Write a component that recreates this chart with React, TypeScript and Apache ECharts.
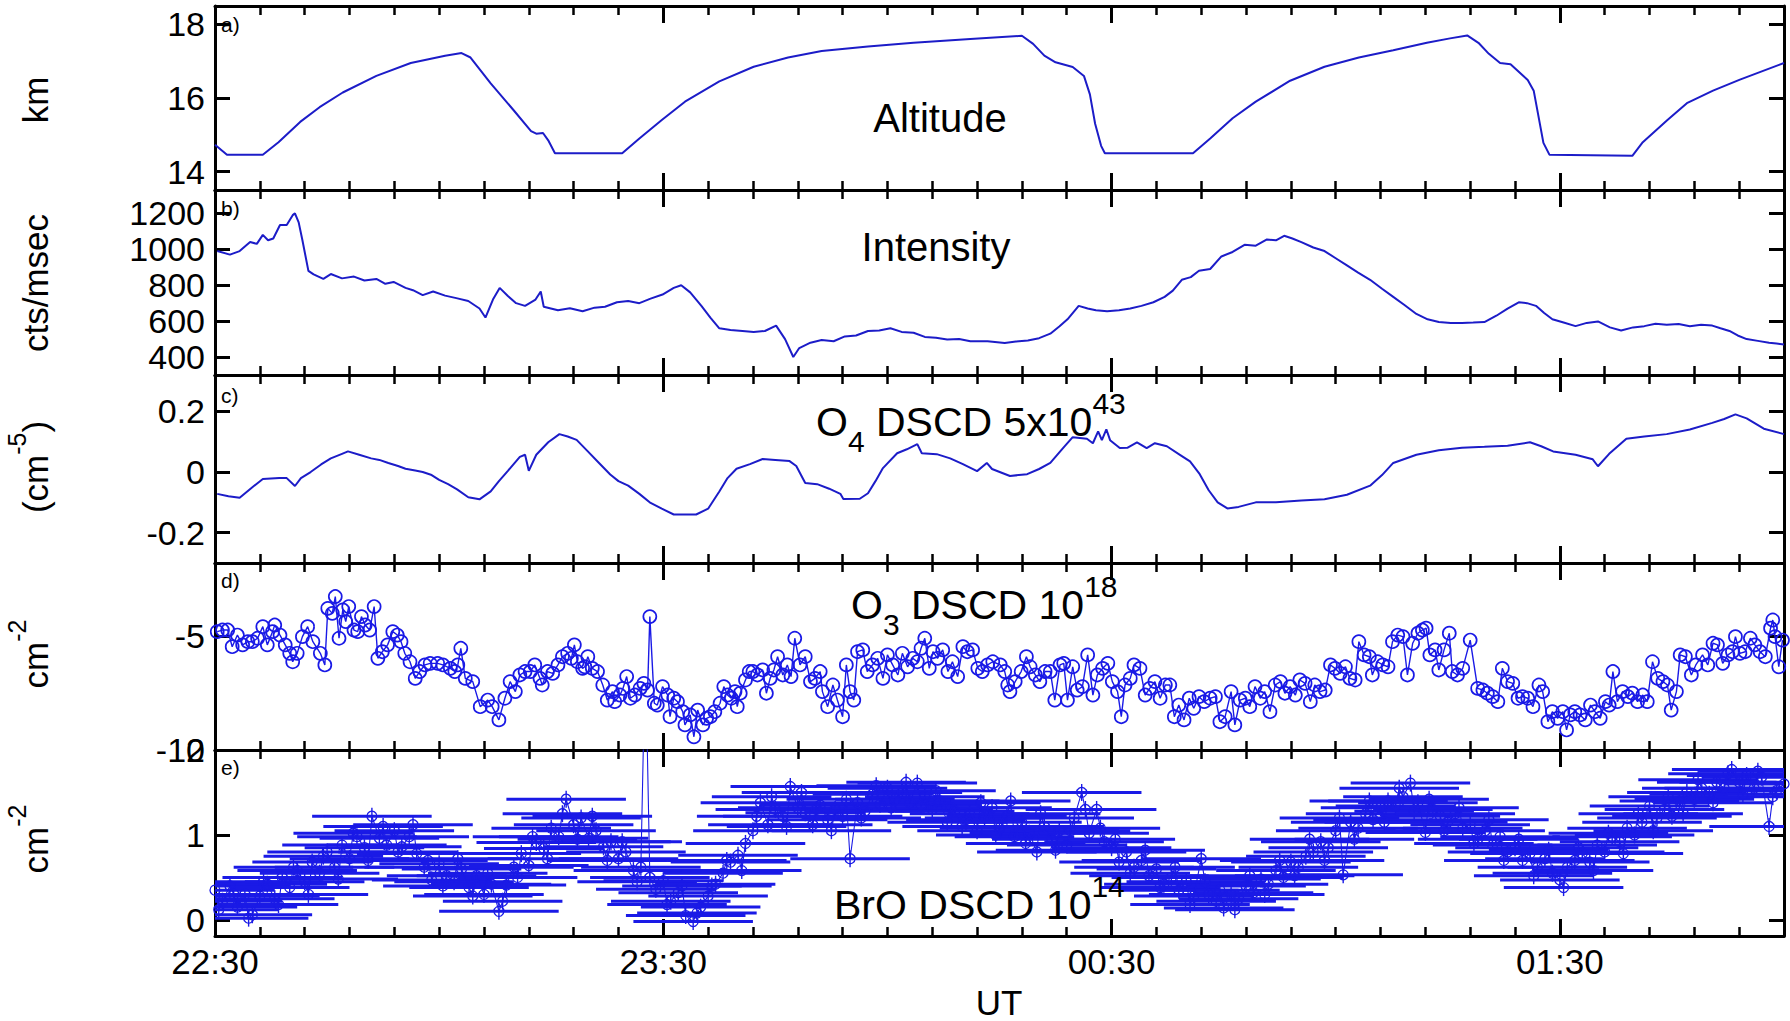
import React, { useEffect, useRef } from 'react';
import * as echarts from 'echarts';

const FONT = "'Liberation Sans', Arial, Helvetica, sans-serif";
const LINE_BLUE = '#1c1cc8';
const MARK_BLUE = '#1a1ae6';

// x values: minutes after 22:30 UT
const X_MIN = 0;
const X_MAX = 210;
const X_LABEL_VALUES = [0, 60, 120, 180];
const X_MINOR_STEP = 6;

// a) Altitude (km)
const altT = [0, 1.6, 6.4, 8.5, 11.4, 14.0, 17.1, 21.6, 26.2, 30.8, 33.0, 34.2, 36.9, 40.0, 42.3, 43.0, 43.9, 44.6, 45.5, 54.5, 56.8, 59.8, 62.9, 67.5, 72.1, 76.7, 81.2, 87.4, 93.5, 101.1, 108.0, 109.5, 111.0, 112.5, 114.8, 116.3, 117.1, 117.8, 118.6, 119.1, 130.9, 133.2, 136.2, 139.3, 143.9, 148.5, 153.1, 157.7, 162.2, 165.3, 167.6, 169.1, 170.5, 172.0, 173.4, 175.7, 176.5, 177.8, 178.6, 189.7, 191.1, 194.4, 197.0, 200.5, 204.1, 210];
const altV = [14.73, 14.46, 14.46, 14.8, 15.35, 15.75, 16.15, 16.6, 16.95, 17.15, 17.22, 17.1, 16.4, 15.66, 15.1, 15.03, 15.05, 14.85, 14.5, 14.5, 14.9, 15.4, 15.9, 16.45, 16.85, 17.1, 17.28, 17.4, 17.5, 17.6, 17.69, 17.47, 17.15, 16.97, 16.84, 16.6, 16.1, 15.3, 14.7, 14.5, 14.5, 14.9, 15.45, 15.9, 16.47, 16.85, 17.1, 17.3, 17.5, 17.62, 17.7, 17.5, 17.2, 16.95, 16.92, 16.49, 16.2, 14.78, 14.46, 14.43, 14.8, 15.4, 15.86, 16.2, 16.5, 16.95];

// b) Intensity (cts/msec)
const intT = [0.3, 2.0, 3.3, 4.7, 5.6, 6.4, 7.1, 7.8, 8.7, 9.6, 10.4, 10.7, 11.2, 11.7, 12.5, 13.2, 14.5, 15.5, 17.0, 18.6, 20.0, 21.6, 22.8, 23.9, 25.5, 26.5, 27.8, 29.2, 30.8, 32.3, 33.9, 35.4, 36.2, 37.2, 38.1, 39.2, 40.3, 41.5, 42.9, 43.6, 44.0, 45.9, 47.5, 49.2, 50.8, 52.2, 53.8, 55.3, 56.8, 58.3, 59.9, 61.4, 62.4, 63.6, 65.1, 66.3, 67.5, 69.0, 70.6, 72.1, 73.6, 75.1, 76.3, 77.4, 78.2, 79.7, 81.2, 82.8, 84.3, 85.8, 87.4, 88.9, 90.4, 91.9, 93.5, 95.0, 96.5, 98.0, 99.6, 101.1, 103.4, 105.7, 107.2, 108.8, 110.3, 111.8, 113.0, 114.1, 115.6, 116.8, 117.9, 119.4, 121.0, 122.5, 124.0, 125.6, 127.1, 128.2, 129.4, 130.6, 131.7, 133.2, 134.7, 136.2, 137.8, 139.3, 140.8, 142.0, 143.1, 144.2, 145.4, 147.0, 148.5, 150.0, 151.5, 153.0, 154.6, 156.2, 157.7, 159.2, 160.8, 162.3, 163.8, 165.4, 166.9, 168.4, 169.9, 171.5, 173.0, 174.5, 175.6, 176.8, 177.9, 179.0, 180.5, 182.1, 183.6, 185.1, 186.7, 188.2, 189.8, 191.3, 192.8, 194.3, 195.9, 197.4, 198.9, 200.4, 201.5, 202.7, 203.8, 205.0, 206.5, 208.0, 209.0, 210];
const intV = [990, 970, 990, 1040, 1030, 1080, 1050, 1060, 1135, 1135, 1190, 1200, 1150, 1050, 880, 860, 835, 862, 838, 848, 826, 835, 808, 818, 785, 772, 745, 765, 742, 728, 712, 670, 620, 720, 785, 740, 700, 685, 720, 765, 680, 660, 672, 655, 675, 680, 705, 712, 700, 725, 748, 785, 800, 760, 685, 620, 560, 550, 545, 540, 545, 575, 500, 400, 450, 480, 495, 488, 515, 520, 545, 548, 560, 540, 535, 512, 508, 498, 500, 488, 488, 478, 486, 492, 505, 530, 570, 610, 685, 670, 660, 655, 660, 670, 685, 705, 735, 770, 830, 845, 880, 890, 960, 985, 1025, 1020, 1055, 1050, 1075, 1060, 1040, 1010, 990, 950, 910, 870, 830, 780, 735, 690, 640, 610, 595, 590, 590, 592, 595, 630, 670, 705, 700, 685, 645, 610, 592, 572, 590, 598, 565, 548, 565, 572, 585, 580, 584, 572, 580, 575, 560, 545, 520, 500, 490, 480, 475, 470];

// c) O4 DSCD (5x10^43 cm^-5)
const o4T = [0.3, 1.8, 3.3, 5.0, 6.4, 8.6, 9.6, 10.7, 11.5, 12.8, 14.2, 15.5, 17.0, 17.8, 19.3, 20.9, 22.0, 23.2, 24.5, 25.5, 26.8, 27.8, 29.0, 30.0, 31.2, 32.4, 33.9, 35.4, 36.9, 38.0, 39.2, 40.8, 41.5, 42.0, 43.0, 44.6, 46.1, 47.2, 48.4, 49.9, 51.4, 52.9, 54.0, 55.3, 56.8, 58.3, 59.8, 61.4, 62.9, 64.4, 66.0, 67.5, 68.6, 69.8, 71.6, 73.3, 75.0, 76.9, 77.8, 79.0, 80.6, 82.2, 83.7, 84.1, 86.3, 87.4, 88.4, 89.4, 91.3, 92.6, 94.0, 94.6, 96.6, 98.4, 100.1, 102.0, 103.3, 104.0, 106.4, 108.7, 110.3, 111.8, 113.5, 114.8, 116.7, 117.5, 118.2, 118.7, 119.3, 119.8, 121.1, 122.1, 123.4, 124.7, 125.8, 127.4, 129.2, 130.5, 131.8, 133.0, 134.2, 135.5, 137.0, 139.3, 142.0, 145.4, 148.5, 151.5, 154.6, 156.2, 157.7, 160.8, 163.8, 166.9, 169.9, 173.0, 176.0, 177.5, 179.1, 182.1, 184.4, 185.1, 186.6, 188.9, 191.3, 194.3, 197.4, 200.4, 202.0, 203.5, 205.0, 207.3, 210];
const o4V = [-0.072, -0.08, -0.085, -0.05, -0.023, -0.02, -0.02, -0.046, -0.02, 0.0, 0.025, 0.045, 0.06, 0.068, 0.057, 0.045, 0.04, 0.03, 0.02, 0.011, 0.005, 0.0, -0.01, -0.026, -0.04, -0.057, -0.083, -0.09, -0.064, -0.03, 0.004, 0.05, 0.057, 0.004, 0.057, 0.098, 0.125, 0.117, 0.106, 0.068, 0.03, -0.008, -0.03, -0.045, -0.072, -0.102, -0.121, -0.14, -0.14, -0.14, -0.121, -0.064, -0.02, 0.011, 0.026, 0.043, 0.04, 0.036, 0.02, -0.036, -0.04, -0.055, -0.072, -0.089, -0.088, -0.07, -0.03, 0.013, 0.062, 0.075, 0.092, 0.062, 0.059, 0.045, 0.026, 0.003, 0.03, 0.01, -0.013, -0.007, 0.01, 0.03, 0.079, 0.115, 0.11, 0.095, 0.134, 0.105, 0.141, 0.105, 0.079, 0.08, 0.098, 0.079, 0.095, 0.085, 0.056, 0.035, -0.007, -0.06, -0.1, -0.12, -0.115, -0.1, -0.1, -0.094, -0.09, -0.075, -0.045, -0.01, 0.03, 0.057, 0.072, 0.08, 0.083, 0.087, 0.098, 0.085, 0.068, 0.057, 0.042, 0.019, 0.06, 0.11, 0.117, 0.125, 0.14, 0.162, 0.175, 0.19, 0.177, 0.143, 0.125];

// d) O3 DSCD (10^18 cm^-2)
const o3T = [0.3, 1.0, 1.7, 2.3, 3.0, 3.7, 4.4, 5.0, 5.7, 6.4, 7.0, 7.7, 8.0, 8.7, 9.4, 10.0, 10.4, 11.0, 11.7, 12.4, 13.1, 14.1, 14.7, 15.1, 15.7, 16.1, 16.6, 17.1, 17.5, 17.9, 18.6, 19.1, 19.6, 20.1, 20.7, 21.3, 21.8, 22.4, 23.1, 23.8, 24.4, 24.9, 25.4, 26.1, 26.8, 27.4, 28.1, 28.8, 29.8, 30.5, 31.5, 32.1, 32.5, 32.9, 33.5, 34.5, 35.5, 36.5, 37.1, 38.0, 38.8, 39.5, 40.2, 40.8, 41.5, 42.2, 42.8, 43.5, 43.8, 44.5, 45.2, 45.9, 46.5, 47.2, 47.7, 48.1, 48.5, 49.2, 49.5, 49.9, 50.5, 51.2, 51.9, 52.5, 53.2, 53.5, 54.2, 54.6, 55.1, 55.6, 56.2, 56.9, 57.4, 57.9, 58.2, 58.8, 59.2, 59.9, 60.6, 60.9, 61.4, 61.9, 62.6, 62.9, 63.6, 64.1, 64.6, 65.3, 65.8, 66.3, 66.9, 67.6, 68.1, 68.6, 69.1, 69.6, 69.9, 70.3, 71.0, 71.5, 72.0, 72.6, 73.3, 73.8, 74.3, 74.8, 75.3, 76.0, 76.6, 77.1, 77.6, 78.3, 79.0, 79.7, 80.3, 81.0, 81.3, 82.0, 82.7, 83.3, 84.0, 84.5, 85.0, 85.5, 86.0, 86.7, 87.3, 88.0, 88.7, 89.4, 90.0, 90.7, 91.4, 92.0, 92.7, 93.4, 94.0, 94.5, 95.0, 95.6, 96.1, 96.7, 97.4, 98.1, 98.7, 99.4, 100.1, 100.7, 101.4, 102.1, 102.7, 103.4, 104.1,
  105.1, 105.7, 106.1, 106.4, 107.1, 107.9, 108.6, 109.1, 109.8, 110.4, 111.1, 111.8, 112.4, 113.1, 113.6, 114.1, 114.8, 115.4, 116.1, 116.8, 117.5, 118.1, 118.8, 119.5, 120.1, 120.8, 121.3, 121.8, 122.5, 123.0, 123.8, 124.5, 125.1, 125.8, 126.5, 127.2, 127.8, 128.4, 129.0, 129.7, 130.4, 131.0, 131.7, 132.4, 133.2, 133.9, 134.5, 135.2, 136.0, 136.5, 137.2, 137.9, 138.5, 139.2, 139.9, 140.5, 141.2, 141.9, 142.6, 143.2, 143.9, 144.6, 145.2, 145.9, 146.6, 147.2, 147.9, 148.6, 149.3, 149.9, 150.6, 151.3, 151.9, 152.6, 153.1, 153.8, 154.5, 154.9, 155.6, 156.3, 157.0, 157.6, 158.3, 159.0, 159.6, 160.3, 161.0, 161.6, 162.1, 162.6, 163.3, 163.8, 164.5, 165.2, 165.6, 166.3, 167.0, 168.0, 169.0, 169.7, 170.3, 171.0, 171.7, 172.3, 173.0, 173.7, 174.4, 175.0, 175.7, 176.4, 177.2, 177.7, 178.4, 179.0, 179.7, 180.4, 180.9, 181.4, 182.0, 182.7, 183.4, 184.1, 184.7, 185.4, 186.1, 186.6, 187.1, 187.7, 188.4, 189.1, 189.7, 190.4, 191.1, 191.7, 192.4, 193.1, 193.8, 194.4, 194.9, 195.6, 196.1, 196.8, 197.6, 198.2, 199.1, 199.8, 200.5, 201.1, 201.8, 202.5, 203.1, 203.5, 204.1, 204.8, 205.5, 206.1, 206.8, 207.5, 208.2, 208.5, 208.8, 209.3, 209.8];
const o3V = [-4.81, -4.74, -4.74, -5.47, -4.96, -5.39, -5.25, -5.25, -5.10, -4.59, -5.39, -4.81, -4.52, -4.96, -5.39, -5.76, -6.13, -5.76, -5.03, -4.59, -5.25, -5.76, -6.27, -3.79, -4.01, -3.27, -5.10, -3.86, -4.37, -3.71, -4.74, -4.81, -4.15, -4.52, -4.74, -3.71, -5.98, -5.69, -5.39, -4.81, -4.96, -5.25, -5.76, -6.13, -6.86, -6.56, -6.27, -6.20, -6.20, -6.27, -6.42, -6.56, -6.27, -5.54, -6.86, -7.00, -8.10, -7.81, -8.10, -8.68, -7.73, -7.00, -7.44, -6.71, -6.56, -6.56, -6.27, -6.86, -7.15, -6.56, -6.64, -6.27, -5.91, -5.76, -5.98, -5.39, -6.13, -6.42, -6.35, -5.91, -6.42, -6.56, -7.15, -7.81, -7.44, -7.88, -7.59, -7.30, -6.78, -7.73, -7.59, -7.30, -7.08, -7.37, -4.15, -7.95, -8.03, -7.22, -7.59, -8.54, -7.73, -7.88, -8.32, -8.90, -8.46, -9.42, -8.25, -8.90, -8.61, -8.54, -8.32, -7.95, -7.22, -7.59, -7.73, -7.44, -8.10, -7.51, -6.93, -6.56, -6.56, -6.71, -6.49, -7.51, -6.86, -6.49, -5.91, -6.71, -6.27, -6.78, -5.10, -6.27, -5.91, -7.00, -6.86, -6.56, -7.44, -8.10, -7.15, -7.81, -8.54, -6.27, -7.44, -7.81, -5.69, -5.61, -6.56, -6.27, -5.98, -6.86, -5.83, -6.27, -6.71, -5.76, -6.35, -5.98, -6.13, -5.54, -5.10, -6.42, -5.69, -5.98, -5.61, -6.56, -6.13, -6.78, -5.47, -5.69, -5.61, -6.42, -6.56, -6.27, -6.13,
  -6.27, -6.56, -7.15, -7.44, -7.00, -6.56, -5.91, -6.35, -6.71, -7.00, -6.56, -6.56, -7.81, -6.27, -6.20, -7.81, -6.35, -7.37, -7.22, -5.83, -7.59, -6.71, -6.42, -6.20, -7.00, -7.44, -8.54, -7.15, -6.86, -6.27, -6.42, -7.59, -7.30, -7.00, -7.73, -7.15, -7.15, -8.54, -8.03, -8.68, -7.73, -8.17, -7.66, -7.88, -7.73, -7.66, -8.76, -8.54, -7.44, -8.90, -7.81, -7.73, -8.10, -7.22, -7.73, -7.44, -8.32, -7.15, -7.00, -7.51, -7.22, -7.59, -6.93, -7.08, -7.88, -7.15, -7.44, -7.37, -6.27, -6.42, -6.64, -6.35, -6.86, -6.93, -5.25, -5.83, -5.91, -6.71, -6.13, -6.27, -6.35, -5.25, -4.96, -5.03, -6.71, -5.32, -4.88, -4.74, -4.66, -5.83, -5.61, -6.49, -5.61, -4.88, -6.56, -6.71, -6.42, -5.18, -7.30, -7.37, -7.51, -7.66, -7.88, -6.42, -7.00, -7.08, -7.73, -7.66, -7.73, -8.10, -7.15, -7.44, -8.76, -8.32, -8.61, -8.32, -9.12, -8.46, -8.32, -8.46, -8.68, -8.03, -8.32, -8.61, -7.88, -8.03, -6.56, -7.88, -7.44, -7.66, -7.51, -7.88, -7.59, -7.88, -6.13, -6.86, -7.00, -7.15, -8.25, -7.44, -5.83, -5.91, -6.71, -6.27, -5.83, -6.27, -5.32, -5.39, -6.20, -5.83, -5.69, -5.03, -5.76, -5.69, -5.10, -5.39, -5.69, -5.91, -4.66, -4.30, -5.03, -6.35, -5.18];

// e) BrO DSCD (10^14 cm^-2)
const broT = [0, 0.5, 1, 2, 2.5, 3, 4, 4.5, 5, 6, 6.5, 7, 8, 8.5, 9, 10, 10.5, 11, 12, 12.5, 13, 14, 14.5, 15, 16, 16.5, 17, 18, 18.5, 19, 20, 20.5, 21, 22, 22.5, 23, 24, 24.5, 25, 26, 26.5, 27, 28, 28.5, 29, 30, 30.5, 31, 32, 32.5, 33, 34, 34.5, 35, 36, 36.5, 37, 38, 38.5, 39, 40, 40.5, 41, 42, 42.5, 43, 44, 44.5, 45, 46, 46.5, 47, 48, 48.5, 49, 50, 50.5, 51, 52, 52.5, 53, 54, 54.5, 55, 56, 56.5, 57,
  57.6, 58.2, 59,
  60, 60.5, 61, 62, 62.5, 63, 64, 64.5, 65, 66, 66.5, 67, 68, 68.5, 69, 70, 70.5, 71, 72, 72.5, 73, 74, 74.5, 75, 76, 76.5, 77, 78, 78.5, 79, 80, 80.5, 81, 82, 82.5, 83, 84, 84.5, 85, 86, 86.5, 87, 88, 88.5, 89, 90, 90.5, 91, 92, 92.5, 93, 94, 94.5, 95, 96, 96.5, 97, 98, 98.5, 99,
  100, 100.5, 101, 102, 102.5, 103, 104, 104.5, 105, 106, 106.5, 107, 108, 108.5, 109, 110, 110.5, 111, 112, 112.5, 113, 114, 114.5, 115, 116, 116.5, 117, 118, 118.5, 119, 120, 120.5, 121, 122, 122.5, 123, 124, 124.5, 125, 126, 126.5, 127, 128, 128.5, 129, 130, 130.5, 131, 132, 132.5, 133, 134, 134.5, 135, 136, 136.5, 137, 138, 138.5, 139,
  140, 140.5, 141, 142, 142.5, 143, 144, 144.5, 145, 146, 146.5, 147, 148, 148.5, 149, 150, 150.5, 151, 152, 152.5, 153, 154, 154.5, 155, 156, 156.5, 157, 158, 158.5, 159, 160, 160.5, 161, 162, 162.5, 163, 164, 164.5, 165, 166, 166.5, 167, 168, 168.5, 169, 170, 170.5, 171, 172, 172.5, 173, 174, 174.5, 175, 176, 176.5, 177, 178, 178.5, 179,
  180, 180.5, 181, 182, 182.5, 183, 184, 184.5, 185, 186, 186.5, 187, 188, 188.5, 189, 190, 190.5, 191, 192, 192.5, 193, 194, 194.5, 195, 196, 196.5, 197, 198, 198.5, 199, 200, 200.5, 201, 202, 202.5, 203, 204, 204.5, 205, 206, 206.5, 207, 208, 208.5, 209, 210];
const broV = [0.35, 0.12, 0.22, 0.40, 0.30, 0.15, 0.30, 0.02, 0.06, 0.28, 0.45, 0.42, 0.25, 0.18, 0.50, 0.38, 0.62, 0.58, 0.45, 0.30, 0.68, 0.55, 0.75, 0.80, 0.62, 0.48, 0.88, 0.72, 1.02, 0.98, 0.85, 0.70, 1.22, 0.96, 1.10, 0.88, 1.05, 0.80, 0.86, 0.98, 1.12, 0.78, 0.62, 0.70, 0.47, 0.66, 0.40, 0.52, 0.45, 0.72, 0.60, 0.38, 0.28, 0.52, 0.30, 0.55, 0.42, 0.10, 0.22, 0.41, 0.62, 0.50, 0.78, 0.64, 0.98, 0.91, 0.84, 0.72, 1.08, 0.98, 1.25, 1.42, 1.12, 0.95, 1.20, 0.96, 1.22, 1.05, 0.86, 0.70, 0.92, 0.72, 0.92, 0.80, 0.58, 0.45, 0.62,
  3.2, 0.50, 0.36,
  0.46, 0.18, 0.22, 0.32, 0.40, 0.05, -0.02, 0.08, 0.15, 0.28, 0.40, 0.42, 0.55, 0.70, 0.68, 0.76, 0.58, 0.90, 1.05, 1.22, 1.38, 1.12, 1.45, 1.30, 1.22, 1.10, 1.57, 1.32, 1.50, 1.26, 1.12, 1.30, 1.35, 1.18, 1.05, 1.30, 1.22, 1.42, 0.72, 1.38, 1.20, 1.28, 1.48, 1.58, 1.36, 1.55, 1.32, 1.42, 1.50, 1.62, 1.38, 1.61, 1.35, 1.45, 1.30, 1.52, 1.40, 1.15, 1.32, 1.28,
  1.10, 1.18, 1.25, 1.05, 1.38, 1.20, 1.32, 1.00, 1.08, 1.22, 1.40, 0.98, 1.15, 0.90, 1.02, 0.80, 1.25, 1.10, 0.95, 0.82, 1.05, 0.88, 1.05, 1.20, 1.50, 1.30, 1.02, 1.30, 1.08, 0.92, 0.85, 0.95, 0.68, 0.80, 0.55, 0.62, 0.70, 0.82, 0.52, 0.60, 0.38, 0.42, 0.50, 0.62, 0.35, 0.45, 0.18, 0.28, 0.72, 0.45, 0.30, 0.22, 0.35, 0.14, 0.30, 0.12, 0.25, 0.40, 0.52, 0.32,
  0.48, 0.30, 0.42, 0.58, 0.70, 0.50, 0.68, 0.52, 0.62, 0.75, 0.95, 0.80, 0.92, 0.70, 0.85, 1.05, 1.20, 0.53, 1.15, 0.95, 1.08, 1.25, 1.40, 1.18, 1.32, 1.15, 1.40, 1.34, 1.55, 1.45, 1.61, 1.28, 1.38, 1.03, 1.42, 1.30, 1.22, 1.05, 1.15, 1.25, 1.32, 1.08, 1.12, 0.90, 0.95, 1.05, 1.18, 0.88, 0.98, 0.70, 0.80, 0.85, 0.95, 0.70, 0.78, 0.52, 0.62, 0.72, 0.82, 0.55,
  0.47, 0.38, 0.62, 0.70, 0.85, 0.78, 0.68, 0.58, 0.88, 0.80, 1.02, 0.98, 0.92, 0.78, 1.08, 1.00, 1.25, 1.15, 1.34, 1.05, 1.20, 1.30, 1.45, 1.22, 1.40, 1.25, 1.50, 1.42, 1.65, 1.55, 1.48, 1.38, 1.62, 1.55, 1.72, 1.77, 1.62, 1.48, 1.70, 1.55, 1.75, 1.68, 1.10, 1.45, 1.52, 1.60];
const BRO_ERR_T = 8; // minutes (half width of the time bars)
const BRO_ERR_V = 0.1; // 10^14 cm^-2

// y axis ranges and tick labels per panel
const Y_MIN = [13.5, 300, -0.3, -10, -0.19];
const Y_MAX = [18.5, 1330, 0.32, -1.8, 2];
const Y_TICKS = [[14, 16, 18], [400, 600, 800, 1000, 1200], [-0.2, 0, 0.2], [-10, -5], [0, 1, 2]];

// layout (pixels)
const GRID_TOP = [6, 190, 375, 563, 750];
const GRID_H = [184, 185, 188, 187, 186];

const zip = (t: number[], v: number[]) => t.map((x, i) => [x, v[i]]);

const fmtUT = (v: number) => {
  const m = (22 * 60 + 30 + Math.round(v)) % 1440;
  const h = Math.floor(m / 60);
  const mm = m % 60;
  return `${String(h).padStart(2, '0')}:${String(mm).padStart(2, '0')}`;
};

const AXIS_LINE = { color: '#000', width: 3 };

function buildOption() {
  const grid: any[] = [];
  const xAxis: any[] = [];
  const yAxis: any[] = [];
  for (let i = 0; i < 5; i++) {
    grid.push({ left: 215, right: 6, top: GRID_TOP[i], height: GRID_H[i], outerBoundsMode: 'none', containLabel: false });
    for (const pos of ['bottom', 'top']) {
      const withLabel = i === 4 && pos === 'bottom';
      xAxis.push({
        type: 'value', gridIndex: i, position: pos, min: X_MIN, max: X_MAX, interval: X_MINOR_STEP,
        axisLine: { show: true, onZero: false, lineStyle: AXIS_LINE },
        axisTick: { show: true, inside: true, length: 9, lineStyle: { color: '#000', width: 2.5 } },
        axisLabel: withLabel
          ? { show: true, customValues: X_LABEL_VALUES, formatter: fmtUT, fontSize: 35, fontFamily: FONT, color: '#000', margin: 8 }
          : { show: false },
        splitLine: { show: false },
      });
      xAxis.push({
        type: 'value', gridIndex: i, position: pos, min: X_MIN, max: X_MAX,
        axisLine: { show: false, onZero: false },
        axisTick: { show: true, inside: true, length: 17, customValues: X_LABEL_VALUES, lineStyle: { color: '#000', width: 3 } },
        axisLabel: { show: false },
        splitLine: { show: false },
      });
    }
    for (const pos of ['left', 'right']) {
      yAxis.push({
        type: 'value', gridIndex: i, position: pos, min: Y_MIN[i], max: Y_MAX[i],
        axisLine: { show: true, onZero: false, lineStyle: AXIS_LINE },
        axisTick: { show: true, inside: true, length: 15, customValues: Y_TICKS[i], lineStyle: { color: '#000', width: 3 } },
        axisLabel: pos === 'left'
          ? { show: true, customValues: Y_TICKS[i], formatter: (v: number) => String(v), fontSize: 34, fontFamily: FONT, color: '#000', margin: 10 }
          : { show: false },
        splitLine: { show: false },
      });
    }
  }

  const lineSeries = (gi: number, t: number[], v: number[]) => ({
    type: 'line', xAxisIndex: gi * 4, yAxisIndex: gi * 2, data: zip(t, v),
    showSymbol: false, symbol: 'none', clip: true, silent: true,
    lineStyle: { color: LINE_BLUE, width: 2 }, itemStyle: { color: LINE_BLUE },
  });

  const series: any[] = [
    lineSeries(0, altT, altV),
    lineSeries(1, intT, intV),
    lineSeries(2, o4T, o4V),
    {
      type: 'line', xAxisIndex: 12, yAxisIndex: 6, data: zip(o3T, o3V), clip: true, silent: true,
      symbol: 'circle', symbolSize: 13, showSymbol: true, showAllSymbol: true,
      lineStyle: { color: MARK_BLUE, width: 1.4 },
      itemStyle: { color: 'rgba(0,0,0,0)', borderColor: MARK_BLUE, borderWidth: 1.7 },
    },
    {
      type: 'custom', xAxisIndex: 16, yAxisIndex: 8, data: zip(broT, broV), clip: true, silent: true,
      encode: { x: 0, y: 1 },
      renderItem: (params: any, api: any) => {
        const t = api.value(0);
        const v = api.value(1);
        const p1 = api.coord([t - BRO_ERR_T, v]);
        const p2 = api.coord([t + BRO_ERR_T, v]);
        const q1 = api.coord([t, v - BRO_ERR_V]);
        const q2 = api.coord([t, v + BRO_ERR_V]);
        return {
          type: 'group',
          children: [
            { type: 'line', shape: { x1: p1[0], y1: p1[1], x2: p2[0], y2: p2[1] }, style: { stroke: MARK_BLUE, lineWidth: 3 } },
            { type: 'line', shape: { x1: q1[0], y1: q1[1], x2: q2[0], y2: q2[1] }, style: { stroke: MARK_BLUE, lineWidth: 1.4 } },
          ],
        };
      },
    },
    {
      type: 'line', xAxisIndex: 16, yAxisIndex: 8, data: zip(broT, broV), clip: true, silent: true,
      symbol: 'circle', symbolSize: 10, showSymbol: true, showAllSymbol: true,
      lineStyle: { color: MARK_BLUE, width: 1.1 },
      itemStyle: { color: 'rgba(0,0,0,0)', borderColor: MARK_BLUE, borderWidth: 1.3 },
    },
  ];

  const titleRich = {
    b: { fontSize: 41, lineHeight: 68, fontFamily: FONT, fill: '#000' },
    sup: { fontSize: 30, lineHeight: 30, fontFamily: FONT, fill: '#000', verticalAlign: 'top' },
    sub: { fontSize: 30, lineHeight: 30, fontFamily: FONT, fill: '#000', verticalAlign: 'bottom' },
  };
  const yRich = {
    b: { fontSize: 35, lineHeight: 62, fontFamily: FONT, fill: '#000' },
    sup: { fontSize: 25, lineHeight: 25, fontFamily: FONT, fill: '#000', verticalAlign: 'top' },
  };

  const plainText = (x: number, y: number, text: string, size: number, align: string) => ({
    type: 'text', x, y, z: 100, silent: true,
    style: { text, fontSize: size, fontFamily: FONT, fill: '#000', align, verticalAlign: 'middle' },
  });
  const richText = (x: number, y: number, text: string, rich: any, align: string, rotation = 0) => ({
    type: 'text', x, y, rotation, z: 100, silent: true,
    style: { text, rich, fontFamily: FONT, fontSize: 35, fill: '#000', align, verticalAlign: 'middle' },
  });

  const graphic: any[] = [
    plainText(940, 118, 'Altitude', 40, 'center'),
    plainText(936, 247, 'Intensity', 40, 'center'),
    richText(816, 422, '{b|O}{sub|4}{b| DSCD 5x10}{sup|43}', titleRich, 'left'),
    richText(851, 605, '{b|O}{sub|3}{b| DSCD 10}{sup|18}', titleRich, 'left'),
    richText(834, 905, '{b|BrO DSCD 10}{sup|14}', titleRich, 'left'),
    { ...plainText(35, 100, 'km', 35, 'center'), rotation: Math.PI / 2 },
    { ...plainText(35, 283, 'cts/msec', 35, 'center'), rotation: Math.PI / 2 },
    richText(35, 467, '{b|(cm}{sup|-5}{b|)}', yRich, 'center', Math.PI / 2),
    richText(35, 654, '{b|cm}{sup|-2}', yRich, 'center', Math.PI / 2),
    richText(35, 839, '{b|cm}{sup|-2}', yRich, 'center', Math.PI / 2),
    plainText(221, 24, 'a)', 21, 'left'),
    plainText(221, 208, 'b)', 21, 'left'),
    plainText(221, 395, 'c)', 21, 'left'),
    plainText(221, 580, 'd)', 21, 'left'),
    plainText(221, 767, 'e)', 21, 'left'),
    plainText(999, 1002, 'UT', 35, 'center'),
  ];

  return { animation: false, backgroundColor: '#ffffff', grid, xAxis, yAxis, series, graphic };
}

export default function App() {
  const ref = useRef<HTMLDivElement>(null);
  useEffect(() => {
    if (!ref.current) return;
    const chart = echarts.init(ref.current, null, { renderer: 'svg' });
    chart.setOption(buildOption() as any);
    return () => chart.dispose();
  }, []);
  return (
    <div
      ref={ref}
      style={{ position: 'absolute', left: 0, top: 0, width: 1790, height: 1021, background: '#fff' }}
    />
  );
}
